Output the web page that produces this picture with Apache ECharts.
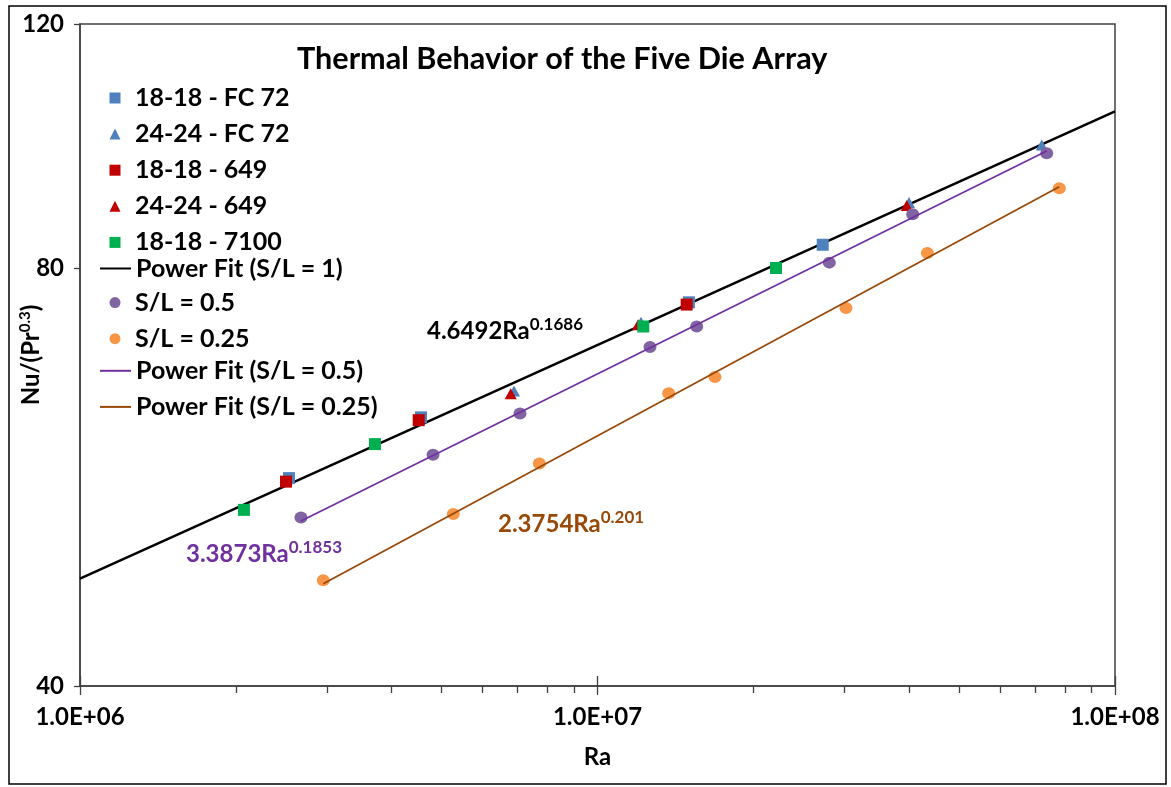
<!DOCTYPE html>
<html><head><meta charset="utf-8">
<script src="https://cdn.jsdelivr.net/npm/echarts@6/dist/echarts.min.js"></script>
<style>html,body{margin:0;padding:0;background:#fff}#c{width:1171px;height:787px}</style>
</head><body><div id="c"></div>
<script>
// ---- data ----
const raMajorTicks = [1e6, 1e7, 1e8];
const raMinorTicks = [2e6,3e6,4e6,5e6,6e6,7e6,8e6,9e6,2e7,3e7,4e7,5e7,6e7,7e7,8e7,9e7];
const nuTicks = [40, 80, 120];

const blueSquares   = [[2.534e6,56.48],[4.560e6,62.47],[1.502e7,75.61],[2.724e7,83.19]];
const blueTriangles = [[6.897e6,65.27],[1.2135e7,73.16],[3.999e7,89.24],[7.218e7,98.17]];
const redSquares    = [[2.501e6,56.15],[4.513e6,62.18],[1.487e7,75.33]];
const redTriangles  = [[6.796e6,64.98],[1.1975e7,72.86],[3.958e7,88.80]];
const greenSquares  = [[2.074e6,53.58],[3.715e6,59.76],[1.226e7,72.64],[2.213e7,80.04]];
const purpleCircles = [[2.673e6,52.90],[4.810e6,58.71],[7.083e6,62.87],[1.2633e7,70.22],[1.5549e7,72.64],[2.805e7,80.76],[4.065e7,87.52],[7.380e7,96.82]];
const orangeCircles = [[2.952e6,47.67],[5.265e6,53.22],[7.719e6,57.87],[1.3727e7,65.02],[1.6866e7,66.80],[3.021e7,74.90],[4.339e7,82.05],[7.805e7,91.38]];
const fitSL1   = [[1e6,47.8],[1e8,103.8]];
const fitSL05  = [[2.673e6,52.6],[7.38e7,97.2]];
const fitSL025 = [[2.952e6,47.4],[7.805e7,91.6]];

const names = ['18-18 - FC 72','24-24 - FC 72','18-18 - 649','24-24 - 649','18-18 - 7100',
  'Power Fit (S/L = 1)','S/L = 0.5','S/L = 0.25','Power Fit (S/L = 0.5)','Power Fit (S/L = 0.25)'];

// ---- helpers ----
const FONT = 'Lato';
const AX = '#404040';
const lg = v => Math.log10(v);
function sci(v){
  const e = Math.round(Math.log10(v));
  const m = v / Math.pow(10, e);
  return m.toFixed(1) + 'E' + (e >= 0 ? '+' : '-') + String(Math.abs(e)).padStart(2, '0');
}
const bold = (size, color) => ({fontFamily: FONT, fontWeight: 'bold', fontSize: size, color: color || '#000'});

const ROW0 = 85.5, PITCH = 34.1;
function legendBlock(rowStart, items, isLine) {
  return {
    orient: 'vertical', padding: 0,
    left: isLine ? 99 : 109.5,
    top: ROW0 + rowStart * PITCH,
    itemWidth: isLine ? 31 : 11, itemHeight: 11, itemGap: PITCH - 23,
    selectedMode: false,
    textStyle: Object.assign(bold(25), {lineHeight: 23, padding: isLine ? 0 : [0, 0, 0, 9.5]}),
    data: items
  };
}
const lineItem = name => ({name: name, itemStyle: {opacity: 0, borderWidth: 0}});
const mark = color => ({color: color, opacity: 1});

const chart = echarts.init(document.getElementById('c'));
const option = {
  animation: false,
  backgroundColor: '#fff',
  title: {text: 'Thermal Behavior of the Five Die Array', left: 297, top: 44, padding: 0, textStyle: bold(30.6)},
  grid: {left: 80, right: 56, top: 24, bottom: 101, outerBoundsMode: 'none', containLabel: false,
         show: true, borderColor: AX, borderWidth: 1.5},
  legend: [
    legendBlock(0, [{name: names[0], icon: 'rect'}, {name: names[1], icon: 'triangle'},
                    {name: names[2], icon: 'rect'}, {name: names[3], icon: 'triangle'},
                    {name: names[4], icon: 'rect'}], false),
    legendBlock(5, [lineItem(names[5])], true),
    legendBlock(6, [{name: names[6], icon: 'circle'}, {name: names[7], icon: 'circle'}], false),
    legendBlock(8, [lineItem(names[8]), lineItem(names[9])], true)
  ],
  xAxis: [
    {type: 'log', logBase: 10, min: raMajorTicks[0], max: raMajorTicks[2], position: 'bottom',
     name: 'Ra', nameLocation: 'middle', nameGap: 58, nameMoveOverlap: false,
     nameTextStyle: Object.assign(bold(24), {lineHeight: 26}),
     axisLine: {onZero: false, lineStyle: {color: AX, width: 1.5}},
     axisTick: {show: true, length: 9, lineStyle: {color: AX, width: 1.3}},
     axisLabel: Object.assign(bold(24), {margin: 19, lineHeight: 24, formatter: sci}),
     splitLine: {show: false}, minorTick: {show: false}},
    {type: 'value', min: lg(raMajorTicks[0]), max: lg(raMajorTicks[2]), position: 'bottom',
     axisLine: {show: false, onZero: false}, axisLabel: {show: false}, splitLine: {show: false},
     axisTick: {show: true, customValues: raMinorTicks.map(lg), length: 7, lineStyle: {color: AX, width: 1.3}}},
    {type: 'value', min: lg(raMajorTicks[0]), max: lg(raMajorTicks[2]), position: 'bottom',
     axisLine: {show: false, onZero: false}, axisLabel: {show: false}, splitLine: {show: false},
     axisTick: {show: true, inside: true, customValues: raMajorTicks.map(lg), length: 10, lineStyle: {color: AX, width: 1.3}}}
  ],
  yAxis: [
    {type: 'log', logBase: 10, min: nuTicks[0], max: nuTicks[2], position: 'left',
     axisLine: {show: true, onZero: false, lineStyle: {color: AX, width: 1.5}},
     axisTick: {show: false}, axisLabel: {show: false}, splitLine: {show: false}, minorTick: {show: false}},
    {type: 'value', min: lg(nuTicks[0]), max: lg(nuTicks[2]), interval: lg(nuTicks[1] / nuTicks[0]), position: 'left',
     name: '{a|Nu/(Pr}{b|0.3}{a|)}', nameLocation: 'middle', nameRotate: 90, nameGap: 36, nameMoveOverlap: false,
     nameTextStyle: {rich: {a: Object.assign(bold(24), {lineHeight: 26}), b: Object.assign(bold(15), {lineHeight: 15, verticalAlign: 'top'})}},
     axisLine: {show: false, onZero: false}, splitLine: {show: false},
     axisTick: {show: true, length: 6, lineStyle: {color: AX, width: 1.3}},
     axisLabel: Object.assign(bold(24), {margin: 16, formatter: v => String(Math.round(Math.pow(10, v)))})}
  ],
  graphic: [
    {type: 'rect', silent: true, shape: {x: 9, y: 6, width: 1157, height: 778},
     style: {fill: 'none', stroke: '#000', lineWidth: 1.5}},
    {type: 'text', x: 427, y: 316, silent: true, style: {text: '{a|4.6492Ra}{b|0.1686}', align: 'left', verticalAlign: 'top',
      rich: {a: {fontFamily: FONT, fontWeight: 'bold', fontSize: 24, lineHeight: 30, fill: '#000'},
             b: {fontFamily: FONT, fontWeight: 'bold', fontSize: 17, lineHeight: 18, verticalAlign: 'top', fill: '#000'}}}},
    {type: 'text', x: 186, y: 539, silent: true, style: {text: '{a|3.3873Ra}{b|0.1853}', align: 'left', verticalAlign: 'top',
      rich: {a: {fontFamily: FONT, fontWeight: 'bold', fontSize: 24, lineHeight: 30, fill: '#7030A0'},
             b: {fontFamily: FONT, fontWeight: 'bold', fontSize: 17, lineHeight: 18, verticalAlign: 'top', fill: '#7030A0'}}}},
    {type: 'text', x: 498, y: 509, silent: true, style: {text: '{a|2.3754Ra}{b|0.201}', align: 'left', verticalAlign: 'top',
      rich: {a: {fontFamily: FONT, fontWeight: 'bold', fontSize: 24, lineHeight: 30, fill: '#984807'},
             b: {fontFamily: FONT, fontWeight: 'bold', fontSize: 17, lineHeight: 18, verticalAlign: 'top', fill: '#984807'}}}}
  ],
  series: [
    {name: names[0], type: 'scatter', data: blueSquares, symbol: 'rect', symbolSize: 12, itemStyle: mark('#4F81BD')},
    {name: names[1], type: 'scatter', data: blueTriangles, symbol: 'triangle', symbolSize: [12, 11], itemStyle: mark('#4F81BD')},
    {name: names[2], type: 'scatter', data: redSquares, symbol: 'rect', symbolSize: 12, itemStyle: mark('#C00000')},
    {name: names[3], type: 'scatter', data: redTriangles, symbol: 'triangle', symbolSize: [12, 11], itemStyle: mark('#C00000')},
    {name: names[4], type: 'scatter', data: greenSquares, symbol: 'rect', symbolSize: 12, itemStyle: mark('#00B050')},
    {name: names[5], type: 'line', data: fitSL1, symbol: 'none', z: 1, lineStyle: {color: '#000', width: 2.5}, itemStyle: {color: '#000'}},
    {name: names[6], type: 'scatter', data: purpleCircles, symbol: 'circle', symbolSize: [13, 12], itemStyle: mark('#8064A2')},
    {name: names[7], type: 'scatter', data: orangeCircles, symbol: 'circle', symbolSize: [13, 12], itemStyle: mark('#F79646')},
    {name: names[8], type: 'line', data: fitSL05, symbol: 'none', lineStyle: {color: '#7030A0', width: 1.75}, itemStyle: {color: '#7030A0'}},
    {name: names[9], type: 'line', data: fitSL025, symbol: 'none', lineStyle: {color: '#984807', width: 1.75}, itemStyle: {color: '#984807'}}
  ]
};
chart.setOption(option);
</script></body></html>
